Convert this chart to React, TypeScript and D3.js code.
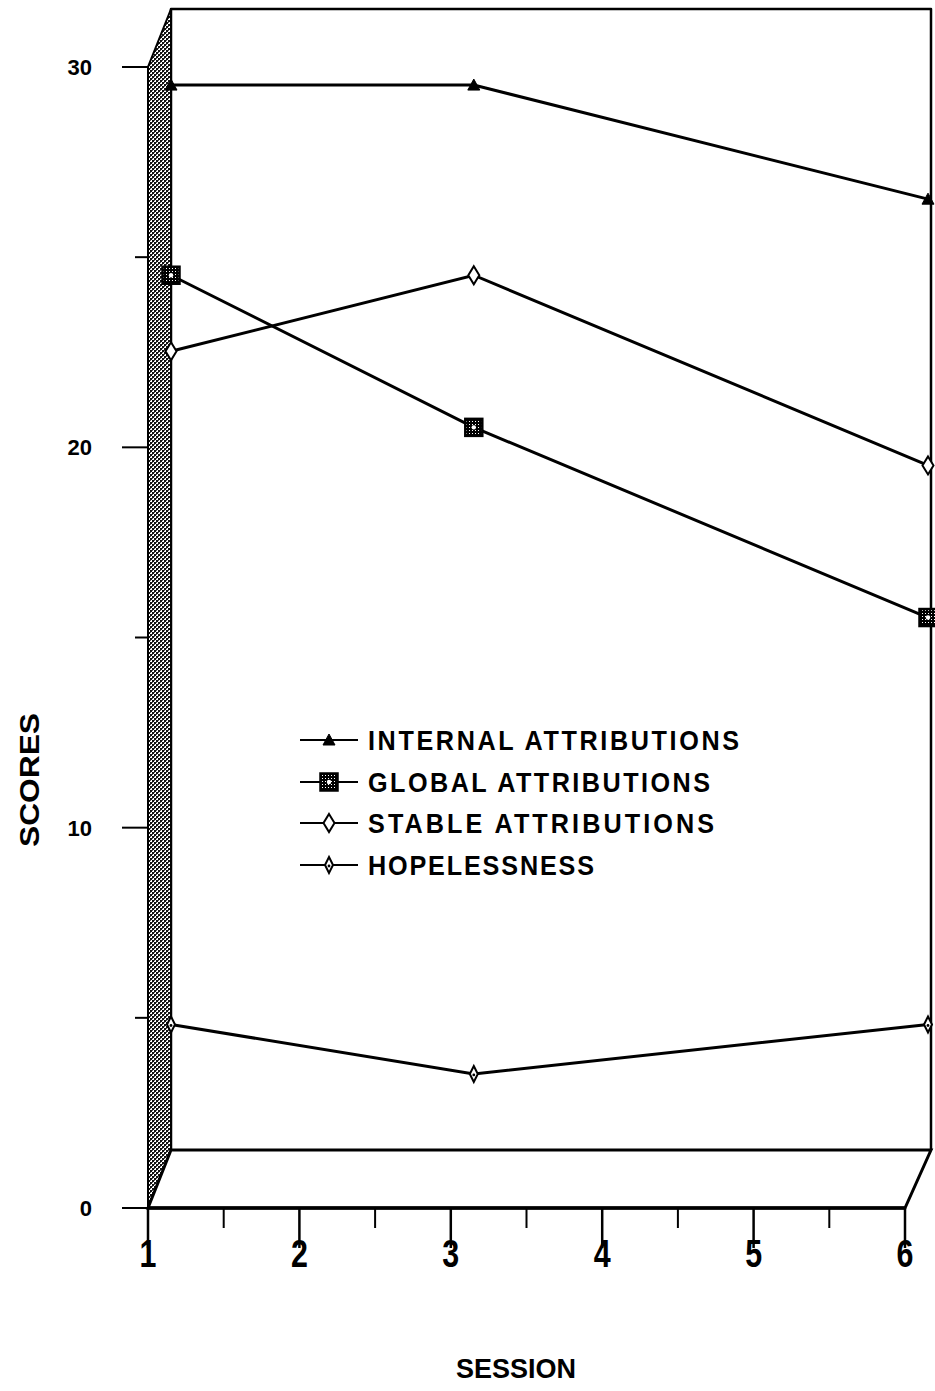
import React from "react";
import * as d3 from "d3";

const sessions = [1, 3, 6];
const internalScores = [28, 28, 25];
const globalScores = [23, 19, 14];
const stableScores = [21, 23, 18];
const hopelessScores = [3.3, 2, 3.3];
const xTicks = [1, 2, 3, 4, 5, 6];
const xMinorTicks = [1.5, 2.5, 3.5, 4.5, 5.5];
const yTicks = [0, 10, 20, 30];
const yMinorTicks = [5, 15, 25];
const legendNames = ["INTERNAL ATTRIBUTIONS", "GLOBAL ATTRIBUTIONS", "STABLE ATTRIBUTIONS", "HOPELESSNESS"];
const legendWidths = [371, 342, 346, 226];

const W = 935, H = 1391;
const DX = 23, DY = -58;
const FONT = "'Liberation Sans', Arial, sans-serif";

export default function App() {
  const x = d3.scaleLinear().domain([1, 6]).range([148, 905]);
  const y = d3.scaleLinear().domain([0, 30]).range([1208, 67]);
  const bx = (v: number) => x(v) + DX;
  const by = (v: number) => y(v) + DY;

  const line = d3.line<[number, number]>().x(d => bx(d[0])).y(d => by(d[1]));
  const series = [internalScores, globalScores, stableScores, hopelessScores];

  const x0 = x(1), x1 = x(6), y0 = y(0), yTop = y(30);

  const marker = (kind: number, cx: number, cy: number, key: string) => {
    if (kind === 0) {
      return <path key={key} d={`M${cx},${cy - 6}L${cx + 6},${cy + 5}L${cx - 6},${cy + 5}Z`} fill="#000" stroke="#000" strokeWidth={1} />;
    }
    if (kind === 1) {
      return (
        <g key={key}>
          <rect x={cx - 8.5} y={cy - 8.5} width={17} height={17} fill="url(#dots)" stroke="#000" strokeWidth={2.5} />
          <circle cx={cx} cy={cy} r={2.2} fill="#fff" />
        </g>
      );
    }
    if (kind === 2) {
      return <path key={key} d={`M${cx},${cy - 9}L${cx + 5.5},${cy}L${cx},${cy + 9}L${cx - 5.5},${cy}Z`} fill="#fff" stroke="#000" strokeWidth={2} />;
    }
    return (
      <g key={key}>
        <path d={`M${cx},${cy - 8}L${cx + 4},${cy}L${cx},${cy + 8}L${cx - 4},${cy}Z`} fill="#fff" stroke="#000" strokeWidth={2} />
        <circle cx={cx} cy={cy + 1} r={1.4} fill="#000" />
      </g>
    );
  };

  const legendY = [740, 782, 823, 865];
  const SX = 0.9;

  return (
    <svg width={W} height={H} style={{ position: "absolute", left: 0, top: 0, background: "#fff" }}>
      <defs>
        <pattern id="hatch" width={4} height={4} patternUnits="userSpaceOnUse">
          <rect width={4} height={4} fill="#fff" />
          <rect x={0} y={0} width={2} height={2} fill="#111" />
          <rect x={2} y={2} width={2} height={2} fill="#111" />
          <rect x={2} y={0} width={1} height={1} fill="#555" />
          <rect x={0} y={2} width={1} height={1} fill="#555" />
        </pattern>
        <pattern id="dots" width={3} height={3} patternUnits="userSpaceOnUse">
          <rect width={3} height={3} fill="#000" />
          <rect x={1} y={1} width={1} height={1} fill="#fff" />
        </pattern>
      </defs>
      <rect width={W} height={H} fill="#fff" />

      {/* back wall */}
      <path d={`M${x0 + DX},${y0 + DY}L${x0 + DX},${yTop + DY}L${x1 + DX + 3},${yTop + DY}L${x1 + DX + 3},${y0 + DY}`}
        fill="none" stroke="#000" strokeWidth={2.5} strokeLinejoin="round" />
      {/* side wall */}
      <path d={`M${x0},${y0}L${x0},${yTop}L${x0 + DX},${yTop + DY}L${x0 + DX},${y0 + DY}Z`}
        fill="url(#hatch)" stroke="#000" strokeWidth={2} />
      {/* floor */}
      <path d={`M${x0},${y0}L${x0 + DX},${y0 + DY}L${x1 + DX + 3},${y0 + DY}L${x1},${y0}Z`}
        fill="#fff" stroke="#000" strokeWidth={3} />

      {/* y axis ticks */}
      {yTicks.map(t => (
        <g key={"yt" + t}>
          <line x1={x0 - 26} x2={x0} y1={y(t)} y2={y(t)} stroke="#000" strokeWidth={2} />
          <text x={92} y={y(t) + 8} textAnchor="end" fontFamily={FONT} fontWeight="bold" fontSize={22}>{t}</text>
        </g>
      ))}
      {yMinorTicks.map(t => (
        <line key={"ym" + t} x1={x0 - 13} x2={x0} y1={y(t)} y2={y(t)} stroke="#000" strokeWidth={2} />
      ))}
      {/* x axis */}
      <line x1={x0} x2={x1} y1={y0} y2={y0} stroke="#000" strokeWidth={3.5} />
      {xTicks.map(t => (
        <g key={"xt" + t}>
          <line x1={x(t)} x2={x(t)} y1={y0} y2={y0 + 40} stroke="#000" strokeWidth={2.5} />
          <text x={x(t)} y={y0 + 59} textAnchor="middle" fontFamily={FONT} fontWeight="bold" fontSize={38}
            transform={`translate(${x(t)},0) scale(0.8,1) translate(${-x(t)},0)`}>{t}</text>
        </g>
      ))}
      {xMinorTicks.map(t => (
        <line key={"xm" + t} x1={x(t)} x2={x(t)} y1={y0} y2={y0 + 20} stroke="#000" strokeWidth={2} />
      ))}

      {/* series */}
      {series.map((s, i) => (
        <path key={"l" + i} d={line(sessions.map((v, j) => [v, s[j]] as [number, number])) || ""}
          fill="none" stroke="#000" strokeWidth={3} />
      ))}
      {series.map((s, i) => sessions.map((v, j) => marker(i, bx(v), by(s[j]), `m${i}-${j}`)))}

      {/* legend */}
      {legendNames.map((n, i) => (
        <g key={"lg" + i}>
          <line x1={300} x2={358} y1={legendY[i]} y2={legendY[i]} stroke="#000" strokeWidth={2} />
          {marker(i, 329, legendY[i], "lm" + i)}
          <text x={368} y={legendY[i] + 10} fontFamily={FONT} fontWeight="bold" fontSize={28}
            transform={`translate(368,0) scale(${SX},1) translate(-368,0)`}
            textLength={legendWidths[i] / SX} lengthAdjust="spacing">{n}</text>
        </g>
      ))}

      {/* axis titles */}
      <text x={516} y={1378} textAnchor="middle" fontFamily={FONT} fontWeight="bold" fontSize={28}
        textLength={120} lengthAdjust="spacingAndGlyphs">SESSION</text>
      <text transform="translate(39,780) rotate(-90)" textAnchor="middle" fontFamily={FONT} fontWeight="bold" fontSize={27}
        textLength={134} lengthAdjust="spacingAndGlyphs">SCORES</text>
    </svg>
  );
}
